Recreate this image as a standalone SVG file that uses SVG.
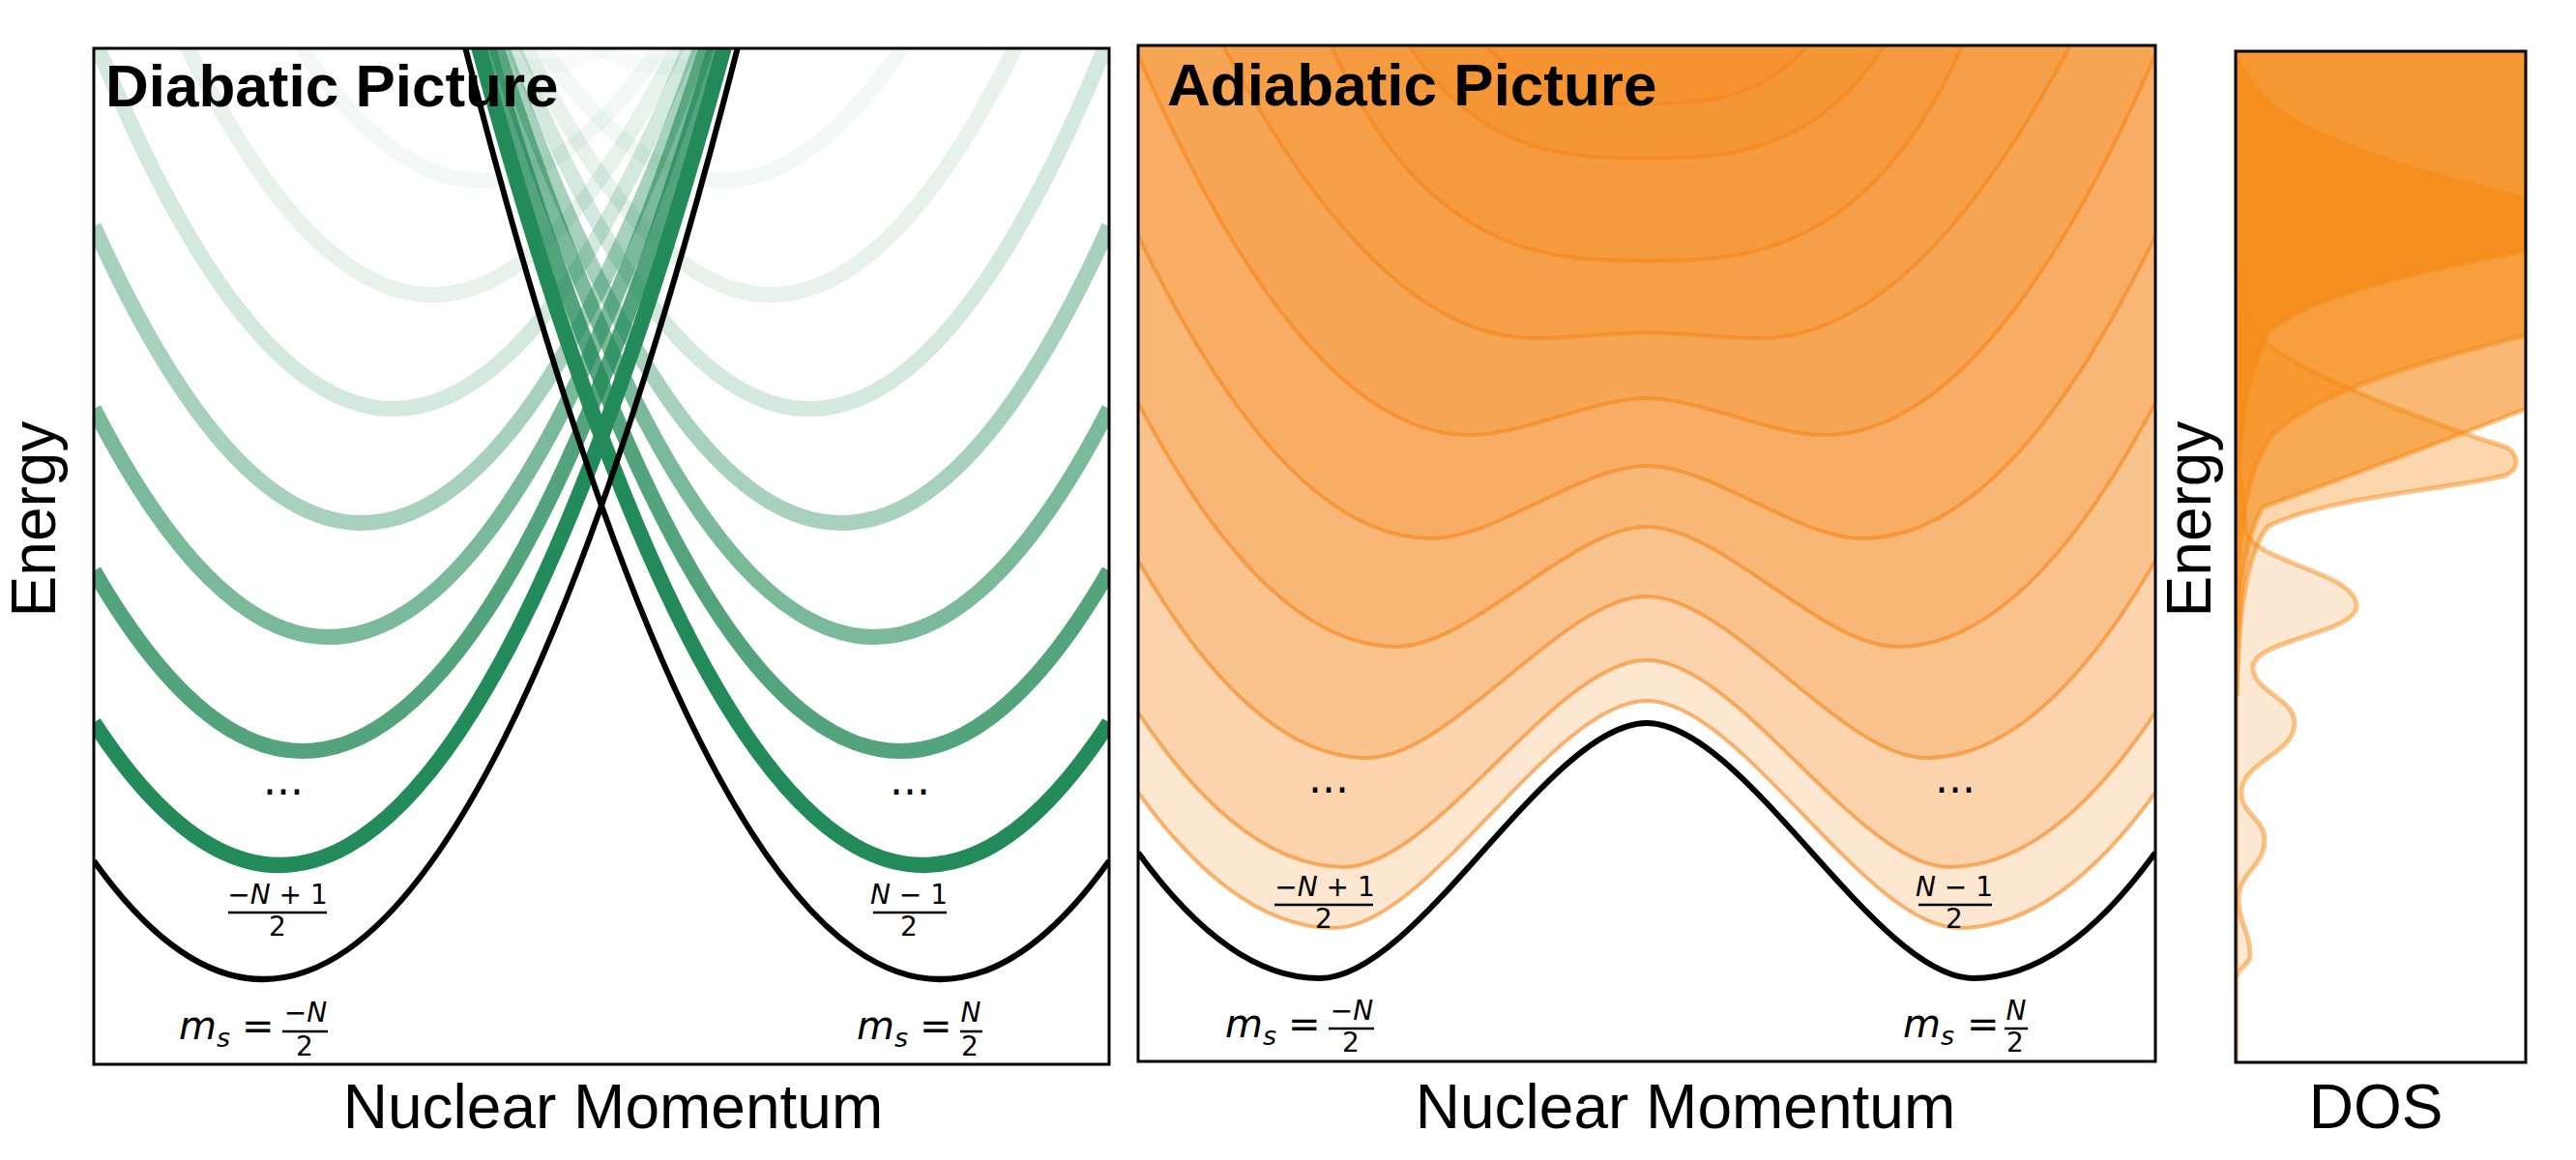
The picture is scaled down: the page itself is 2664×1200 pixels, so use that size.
<svg xmlns="http://www.w3.org/2000/svg" width="2664" height="1200" viewBox="0 0 2664 1200">
<style>
.frame{fill:none;stroke:#000;stroke-width:3}
.g{fill:none;stroke:#238b59;stroke-width:16}
.blk{fill:none;stroke:#000;stroke-width:6}
.ofill{fill:#f5861a;fill-opacity:0.2;stroke:none}
.oline{fill:none;stroke:#f5861a;stroke-width:4;stroke-opacity:0.6}
.dos{fill:#f58b17;stroke:none}
.dosline{fill:none;stroke:#f58b17;stroke-width:5;stroke-opacity:0.5}
.math{font-family:"DejaVu Sans",sans-serif;fill:#000}
.it{font-style:italic}
.bar{stroke:#000;stroke-width:2.5}
.title{font-family:"Liberation Sans",Arial,sans-serif;font-weight:bold;font-size:62px;fill:#000}
.axis{font-family:"Liberation Sans",Arial,sans-serif;font-size:64px;fill:#000}
</style>
<defs>
<clipPath id="clipL"><rect x="97" y="50" width="1050" height="1051"/></clipPath>
<clipPath id="clipM"><rect x="1177" y="47" width="1052" height="1051"/></clipPath>
<clipPath id="clipR"><rect x="2312" y="53" width="300" height="1046"/></clipPath>
</defs>
<rect width="2664" height="1200" fill="#fff"/>

<g id="diabatic-panel">
<g clip-path="url(#clipL)">
<path class="g" stroke-opacity="0.03" d="M97,-770 Q622,1153.5 1147,-1332.9"/>
<path class="g" stroke-opacity="0.03" d="M1147,-770 Q622,1153.5 97,-1332.9"/>
<path class="g" stroke-opacity="0.06" d="M97,-453 Q622,1227 1147,-1503"/>
<path class="g" stroke-opacity="0.06" d="M1147,-453 Q622,1227 97,-1503"/>
<path class="g" stroke-opacity="0.11" d="M97,-185 Q622,1285 1147,-1655"/>
<path class="g" stroke-opacity="0.11" d="M1147,-185 Q622,1285 97,-1655"/>
<path class="g" stroke-opacity="0.2" d="M97,38.6 Q622,1340.6 1147,-1767.4"/>
<path class="g" stroke-opacity="0.2" d="M1147,38.6 Q622,1340.6 97,-1767.4"/>
<path class="g" stroke-opacity="0.4" d="M97,234.1 Q622,1397.5 1147,-1849.1"/>
<path class="g" stroke-opacity="0.4" d="M1147,234.1 Q622,1397.5 97,-1849.1"/>
<path class="g" stroke-opacity="0.6" d="M97,422.8 Q622,1443.4 1147,-1946"/>
<path class="g" stroke-opacity="0.6" d="M1147,422.8 Q622,1443.4 97,-1946"/>
<path class="g" stroke-opacity="0.78" d="M97,590.4 Q622,1497.6 1147,-2005.2"/>
<path class="g" stroke-opacity="0.78" d="M1147,590.4 Q622,1497.6 97,-2005.2"/>
<path class="g" d="M97,747.5 Q622,1554 1147,-2049.7"/>
<path class="g" d="M1147,747.5 Q622,1554 97,-2049.7"/>
<path class="blk" d="M97,890.5 Q622,1625.5 1147,-2049.5"/>
<path class="blk" d="M1147,890.5 Q622,1625.5 97,-2049.5"/>
</g>
<rect class="frame" x="97" y="50" width="1050" height="1051"/>
<text class="title" x="109" y="110">Diabatic Picture</text>
<g class="math">
<text x="293" y="822" font-size="44" text-anchor="middle">...</text>
<text x="941" y="822" font-size="44" text-anchor="middle">...</text>
<text x="287" y="935" font-size="28" text-anchor="middle">−<tspan class="it">N</tspan> + 1</text>
<line class="bar" x1="236" y1="944" x2="338" y2="944"/>
<text x="287" y="968" font-size="28" text-anchor="middle">2</text>
<text x="940" y="935" font-size="28" text-anchor="middle"><tspan class="it">N</tspan> − 1</text>
<line class="bar" x1="903" y1="944" x2="979" y2="944"/>
<text x="940" y="968" font-size="28" text-anchor="middle">2</text>
<text x="185" y="1075" font-size="40" class="it">m</text>
<text x="224" y="1083" font-size="27" class="it">s</text>
<text x="250" y="1075" font-size="40">=</text>
<text x="316" y="1057" font-size="28" text-anchor="middle">−<tspan class="it">N</tspan></text>
<line class="bar" x1="292" y1="1067" x2="339" y2="1067"/>
<text x="315" y="1092" font-size="28" text-anchor="middle">2</text>
<text x="886" y="1075" font-size="40" class="it">m</text>
<text x="925" y="1083" font-size="27" class="it">s</text>
<text x="951" y="1075" font-size="40">=</text>
<text x="1004" y="1057" font-size="28" text-anchor="middle" class="it">N</text>
<line class="bar" x1="993" y1="1067" x2="1016" y2="1067"/>
<text x="1003" y="1092" font-size="28" text-anchor="middle">2</text>
</g>
</g>

<g id="adiabatic-panel">
<g clip-path="url(#clipM)">
<path class="ofill" d="M1177,820 Q1278.5,960 1380,960 C1476.9,960 1606.1,725 1703,725 C1799.9,725 1929.1,960 2026,960 Q2127.5,960 2229,820 L2229,-300 L1177,-300 Z"/>
<path class="ofill" d="M1177,737 Q1283.5,897 1390,897 C1483.9,897 1609.1,683 1703,683 C1796.9,683 1922.1,897 2016,897 Q2122.5,897 2229,737 L2229,-300 L1177,-300 Z"/>
<path class="ofill" d="M1177,580 Q1295.5,784 1414,784 C1500.7,784 1616.3,617 1703,617 C1789.7,617 1905.3,784 1992,784 Q2110.5,784 2229,580 L2229,-300 L1177,-300 Z"/>
<path class="ofill" d="M1177,417 Q1310.5,669 1444,669 C1521.7,669 1625.3,545 1703,545 C1780.7,545 1884.3,669 1962,669 Q2095.5,669 2229,417 L2229,-300 L1177,-300 Z"/>
<path class="ofill" d="M1177,244 Q1328.5,557 1480,557 C1546.9,557 1636.1,482 1703,482 C1769.9,482 1859.1,557 1926,557 Q2077.5,557 2229,244 L2229,-300 L1177,-300 Z"/>
<path class="ofill" d="M1177,57 Q1348.5,450 1520,450 C1574.9,450 1648.1,412 1703,412 C1757.9,412 1831.1,450 1886,450 Q2057.5,450 2229,57 L2229,-300 L1177,-300 Z"/>
<path class="ofill" d="M1177,-140.8 Q1382,350 1587,350 C1621.8,350 1668.2,344 1703,344 C1737.8,344 1784.2,350 1819,350 Q2024,350 2229,-140.8 L2229,-300 L1177,-300 Z"/>
<path class="ofill" d="M1343,-37 C1387.7,89 1432.3,155.8 1477,197 C1552.3,266.4 1627.7,270 1703,270 C1778.3,270 1853.7,266.4 1929,197 C1973.7,155.8 2018.3,89 2063,-37 L2063,-300 L1343,-300 Z"/>
<path class="ofill" d="M1423,-14.7 C1459.7,63.3 1496.3,102.3 1533,125.8 C1589.7,162.1 1646.3,164 1703,164 C1759.7,164 1816.3,162.1 1873,125.8 C1909.7,102.3 1946.3,63.3 1983,-14.7 L1983,-300 L1423,-300 Z"/>
<path class="ofill" d="M1503,-5 C1529.7,46.3 1556.3,70.7 1583,85.1 C1623,106.6 1663,107 1703,107 C1743,107 1783,106.6 1823,85.1 C1849.7,70.7 1876.3,46.3 1903,-5 L1903,-300 L1503,-300 Z"/>
<path class="oline" stroke-opacity="0.3" d="M1177,820 Q1278.5,960 1380,960 C1476.9,960 1606.1,725 1703,725 C1799.9,725 1929.1,960 2026,960 Q2127.5,960 2229,820"/>
<path class="oline" d="M1177,737 Q1283.5,897 1390,897 C1483.9,897 1609.1,683 1703,683 C1796.9,683 1922.1,897 2016,897 Q2122.5,897 2229,737"/>
<path class="oline" d="M1177,580 Q1295.5,784 1414,784 C1500.7,784 1616.3,617 1703,617 C1789.7,617 1905.3,784 1992,784 Q2110.5,784 2229,580"/>
<path class="oline" d="M1177,417 Q1310.5,669 1444,669 C1521.7,669 1625.3,545 1703,545 C1780.7,545 1884.3,669 1962,669 Q2095.5,669 2229,417"/>
<path class="oline" d="M1177,244 Q1328.5,557 1480,557 C1546.9,557 1636.1,482 1703,482 C1769.9,482 1859.1,557 1926,557 Q2077.5,557 2229,244"/>
<path class="oline" d="M1177,57 Q1348.5,450 1520,450 C1574.9,450 1648.1,412 1703,412 C1757.9,412 1831.1,450 1886,450 Q2057.5,450 2229,57"/>
<path class="oline" d="M1177,-140.8 Q1382,350 1587,350 C1621.8,350 1668.2,344 1703,344 C1737.8,344 1784.2,350 1819,350 Q2024,350 2229,-140.8"/>
<path class="oline" d="M1343,-37 C1387.7,89 1432.3,155.8 1477,197 C1552.3,266.4 1627.7,270 1703,270 C1778.3,270 1853.7,266.4 1929,197 C1973.7,155.8 2018.3,89 2063,-37"/>
<path class="oline" d="M1423,-14.7 C1459.7,63.3 1496.3,102.3 1533,125.8 C1589.7,162.1 1646.3,164 1703,164 C1759.7,164 1816.3,162.1 1873,125.8 C1909.7,102.3 1946.3,63.3 1983,-14.7"/>
<path class="oline" d="M1503,-5 C1529.7,46.3 1556.3,70.7 1583,85.1 C1623,106.6 1663,107 1703,107 C1743,107 1783,106.6 1823,85.1 C1849.7,70.7 1876.3,46.3 1903,-5"/>
<path class="blk" d="M1177,882 Q1271,1012 1365,1012 C1466.4,1012 1601.6,748 1703,748 C1804.4,748 1939.6,1012 2041,1012 Q2135,1012 2229,882"/>
</g>
<rect class="frame" x="1177" y="47" width="1052" height="1051"/>
<text class="title" x="1207" y="109">Adiabatic Picture</text>
<g class="math">
<text x="1374" y="820" font-size="44" text-anchor="middle">...</text>
<text x="2022" y="820" font-size="44" text-anchor="middle">...</text>
<text x="1370" y="927" font-size="28" text-anchor="middle">−<tspan class="it">N</tspan> + 1</text>
<line class="bar" x1="1318" y1="936" x2="1420" y2="936"/>
<text x="1369" y="960" font-size="28" text-anchor="middle">2</text>
<text x="2021" y="927" font-size="28" text-anchor="middle"><tspan class="it">N</tspan> − 1</text>
<line class="bar" x1="1984" y1="936" x2="2060" y2="936"/>
<text x="2021" y="960" font-size="28" text-anchor="middle">2</text>
<text x="1267" y="1073" font-size="40" class="it">m</text>
<text x="1306" y="1081" font-size="27" class="it">s</text>
<text x="1332" y="1073" font-size="40">=</text>
<text x="1398" y="1055" font-size="28" text-anchor="middle">−<tspan class="it">N</tspan></text>
<line class="bar" x1="1374" y1="1064" x2="1421" y2="1064"/>
<text x="1397" y="1088" font-size="28" text-anchor="middle">2</text>
<text x="1968" y="1073" font-size="40" class="it">m</text>
<text x="2007" y="1081" font-size="27" class="it">s</text>
<text x="2034" y="1073" font-size="40">=</text>
<text x="2085" y="1055" font-size="28" text-anchor="middle" class="it">N</text>
<line class="bar" x1="2073" y1="1064" x2="2097" y2="1064"/>
<text x="2084" y="1088" font-size="28" text-anchor="middle">2</text>
</g>
</g>

<g id="dos-panel">
<g clip-path="url(#clipR)">
<path class="dos" fill-opacity="0.3" d="M2312,50 C2330,100 2370,125 2420,145 C2480,170 2560,190 2620,205 L2620,40 L2312,40 Z"/>
<path class="dos" fill-opacity="0.75" d="M2312,560 L2313,560 C2314,460 2322,390 2345,345 C2380,310 2480,285 2620,258 L2620,205 C2560,190 2480,170 2420,145 C2370,125 2330,100 2312,50 Z"/>
<path class="dos" fill-opacity="0.575" d="M2312,640 L2313,640 C2314,550 2322,490 2350,450 C2390,410 2480,380 2620,345 L2620,40 L2312,40 Z"/>
<path class="dos" fill-opacity="0.6" d="M2312,720 L2313,720 C2314,620 2320,560 2340,525 C2380,510 2480,475 2620,420 L2620,40 L2312,40 Z"/>
<path class="dosline" stroke-width="3" stroke-opacity="0.3" d="M2313,720 C2314,620 2320,560 2340,525 C2380,510 2480,475 2620,420"/>
<path class="dosline" stroke-width="3" stroke-opacity="0.3" d="M2313,640 C2314,550 2322,490 2350,450 C2390,410 2480,380 2620,345"/>
<path class="dosline" stroke-width="3" stroke-opacity="0.3" d="M2313,560 C2314,460 2322,390 2345,345 C2380,310 2480,285 2620,258"/>
<path class="dos" fill-opacity="0.35" d="M2312,720 L2313,720 C2315,640 2322,575 2345,545 C2400,515 2540,505 2590,492 C2606,487 2606,468 2590,462 C2520,440 2400,395 2350,360 C2328,340 2318,320 2314,280 L2312,280 Z"/>
<path class="dosline" d="M2313,720 C2315,640 2322,575 2345,545 C2400,515 2540,505 2590,492 C2606,487 2606,468 2590,462 C2520,440 2400,395 2350,360 C2328,340 2318,320 2314,280"/>
<path class="dos" fill-opacity="0.19" d="M2312,1012 L2313,1012 C2313,1001 2327,999 2327,988 C2327,962 2315,956 2315,930 C2315,903 2342,896 2342,869 C2342,847 2318,842 2318,820 C2318,788 2373,780 2373,748 C2373,722 2330,716 2330,690 C2330,662 2437,655 2437,627 C2437,590 2322,582 2322,545 C2322,520 2315,500 2314,470 L2312,470 Z"/>
<path class="dosline" d="M2313,1012 C2313,1001 2327,999 2327,988 C2327,962 2315,956 2315,930 C2315,903 2342,896 2342,869 C2342,847 2318,842 2318,820 C2318,788 2373,780 2373,748 C2373,722 2330,716 2330,690 C2330,662 2437,655 2437,627 C2437,590 2322,582 2322,545 C2322,520 2315,500 2314,470"/>
<line x1="2313" y1="53" x2="2313" y2="1099" stroke="#f58b17" stroke-width="4" stroke-opacity="0.6"/>
</g>
<rect class="frame" x="2312" y="53" width="300" height="1046"/>
</g>

<g id="axis-labels">
<text class="axis" x="634" y="1167" text-anchor="middle">Nuclear Momentum</text>
<text class="axis" x="1743" y="1167" text-anchor="middle">Nuclear Momentum</text>
<text class="axis" x="2457" y="1167" text-anchor="middle" font-size="52">DOS</text>
<text class="axis" font-size="57" text-anchor="middle" transform="translate(57,537) rotate(-90)">Energy</text>
<text class="axis" font-size="57" text-anchor="middle" transform="translate(2286,537) rotate(-90)">Energy</text>
</g>
</svg>
